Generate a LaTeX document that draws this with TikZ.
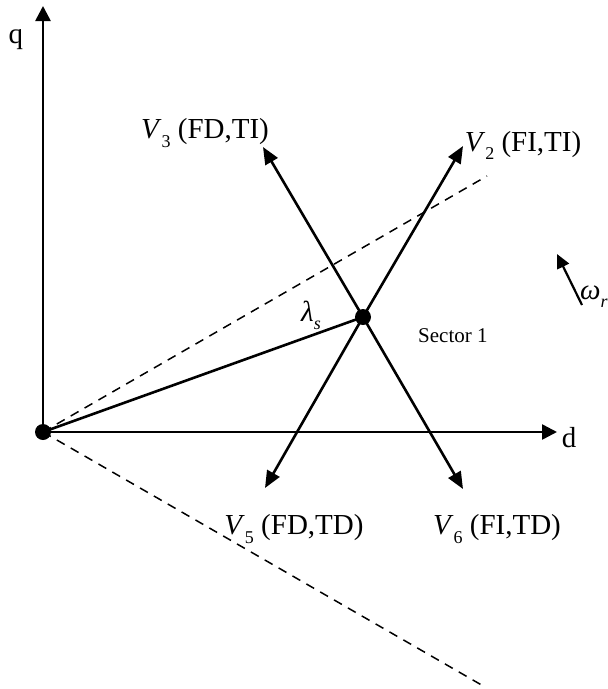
\documentclass[tikz,border=0pt]{standalone}
\usepackage{fontspec}
\setmainfont{Liberation Serif}
\usetikzlibrary{arrows.meta}
\newcommand\sbs[1]{\raisebox{-0.28em}{\fontsize{18}{18}\selectfont #1}}
\begin{document}
\begin{tikzpicture}[x=1pt,y=-1pt,
  axis/.style={line width=2.6pt,-{Triangle[length=15pt,width=15pt]}},
  vec/.style={line width=2.6pt,-{Triangle[length=17pt,width=14pt]}},
  dashline/.style={line width=1.5pt,dash pattern=on 9pt off 7pt},
  lbl/.style={font=\fontsize{29}{31}\selectfont,inner sep=0pt},
  dot/.style={circle,fill=black,minimum size=16pt,inner sep=0pt}]
\useasboundingbox (0,0) rectangle (608,689);
\node[dot] (O) at (43,432) {};
\node[dot] (C) at (363,317) {};
\coordinate (qtip) at (43,6);
\coordinate (dtip) at (557,432);
\coordinate (up) at (487,176);
\coordinate (dn) at (485,687);
\coordinate (v2) at (463,146);
\coordinate (v3) at (263,147);
\coordinate (v5) at (265,488);
\coordinate (v6) at (463,489);
\coordinate (wt) at (582,305);
\coordinate (wh) at (557,254);
\draw[dashline] (O.center) -- (up);
\draw[dashline] (O.center) -- (dn);
\draw[axis] (O.center) -- (qtip);
\draw[axis] (O.center) -- (dtip);
\draw[line width=2.6pt] (O.center) -- (C.center);
\draw[vec] (C.center) -- (v2);
\draw[vec] (C.center) -- (v3);
\draw[vec] (C.center) -- (v5);
\draw[vec] (C.center) -- (v6);
\draw[line width=2.2pt,-{Triangle[length=14pt,width=13pt]}] (wt) -- (wh);
\node[lbl] (q) at (16,40) {q};
\node[lbl] (d) at (569,438) {d};
\node[lbl] (l3) at (205,133) {\textit{V}\sbs{3} (FD,TI)};
\node[lbl] (l2) at (523,145) {\textit{V}\sbs{2} (FI,TI)};
\node[lbl] (l5) at (294,529) {\textit{V}\sbs{5} (FD,TD)};
\node[lbl] (l6) at (497,529) {\textit{V}\sbs{6} (FI,TD)};
\node[lbl] (lam) at (311,315) {\textit{λ}\sbs{\textit{s}}};
\node[lbl,anchor=west,font=\fontsize{21}{23}\selectfont] (sec) at (418,336) {Sector 1};
\node[lbl] (om) at (594,297) {\textit{ω}\sbs{\textit{r}}};
\end{tikzpicture}
\end{document}
